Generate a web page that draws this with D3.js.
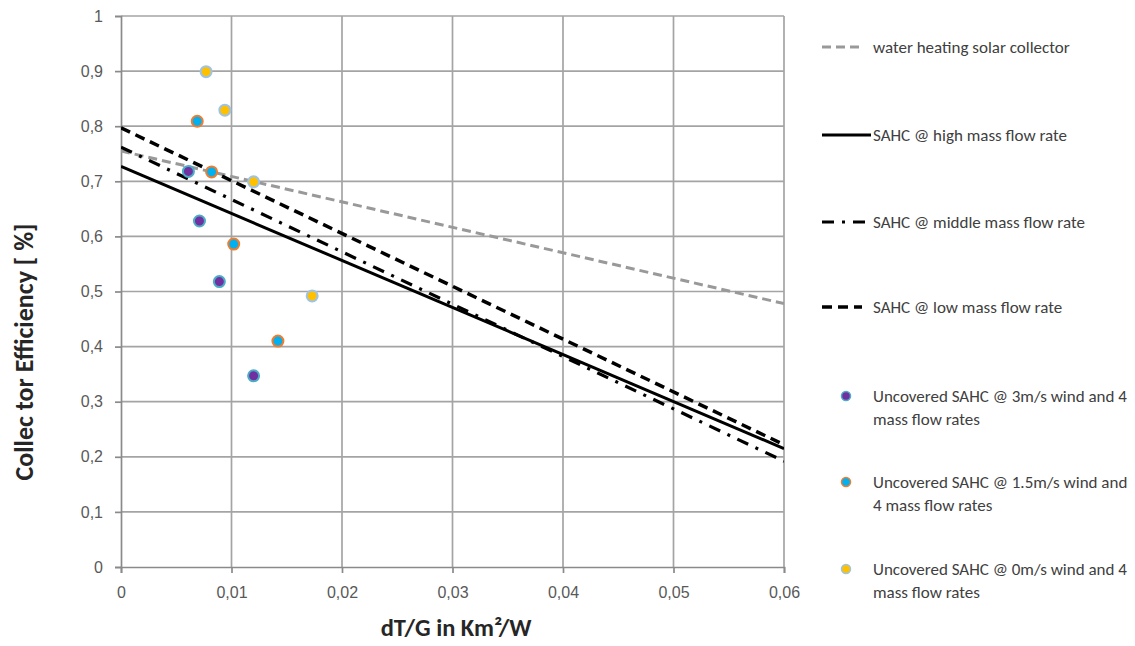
<!DOCTYPE html>
<html>
<head>
<meta charset="utf-8">
<script src="https://cdn.jsdelivr.net/npm/d3@7"></script>
<style>
  body { margin: 0; background: #fff; }
  svg { font-family: Carlito, Calibri, "Liberation Sans Narrow", "Open Sans", sans-serif; }
</style>
</head>
<body>
<svg id="chart" width="1135" height="646"></svg>
<script>
// line series: [x, y] at both ends
const water_line = [[0, 0.755], [0.06, 0.478]]
const high_line = [[0, 0.727], [0.06, 0.215]]
const middle_line = [[0, 0.762], [0.06, 0.192]]
const low_line = [[0, 0.797], [0.06, 0.222]]

// measured points
const wind3_x = [0.0061, 0.0071, 0.0089, 0.0120]
const wind3_y = [0.718, 0.628, 0.518, 0.347]
const wind15_x = [0.0069, 0.0082, 0.0102, 0.0142]
const wind15_y = [0.809, 0.717, 0.586, 0.410]
const wind0_x = [0.0077, 0.0094, 0.0120, 0.0173]
const wind0_y = [0.899, 0.829, 0.699, 0.492]

const x_ticks = [0, 0.01, 0.02, 0.03, 0.04, 0.05, 0.06]
const y_ticks = [0, 0.1, 0.2, 0.3, 0.4, 0.5, 0.6, 0.7, 0.8, 0.9, 1]

const fmt = d => String(d).replace('.', ',')

const svg = d3.select('#chart')
const p_left = 121, p_right = 784, p_top = 16, p_bottom = 567

const x = d3.scaleLinear().domain([0, 0.06]).range([p_left, p_right])
const y = d3.scaleLinear().domain([0, 1]).range([p_bottom, p_top])

// grid
svg.append('g').selectAll('line')
    .data(x_ticks.slice(1))
    .enter().append('line')
    .attr('x1', d => x(d)).attr('x2', d => x(d))
    .attr('y1', p_top).attr('y2', p_bottom)
    .attr('stroke', '#a4a4a4').attr('stroke-width', 1.7)

svg.append('g').selectAll('line')
    .data(y_ticks.slice(1))
    .enter().append('line')
    .attr('x1', p_left).attr('x2', p_right)
    .attr('y1', d => y(d)).attr('y2', d => y(d))
    .attr('stroke', '#a4a4a4').attr('stroke-width', 1.7)

// axes
const xAxis = svg.append('g')
    .attr('transform', 'translate(0,' + p_bottom + ')')
    .call(d3.axisBottom(x).tickValues(x_ticks).tickFormat(fmt).tickSize(6).tickPadding(14))
const yAxis = svg.append('g')
    .attr('transform', 'translate(' + p_left + ',0)')
    .call(d3.axisLeft(y).tickValues(y_ticks).tickFormat(fmt).tickSize(6).tickPadding(12))

;[xAxis, yAxis].forEach(ax => {
    ax.select('.domain').attr('stroke', '#8a8a8a').attr('stroke-width', 1.7)
    ax.selectAll('.tick line').attr('stroke', '#8a8a8a').attr('stroke-width', 1.7)
    ax.selectAll('.tick text').attr('fill', '#595959').style('font-size', '16px')
})

// lines
svg.append('clipPath').attr('id', 'plot-clip')
    .append('rect').attr('x', p_left).attr('y', p_top).attr('width', p_right - p_left).attr('height', p_bottom - p_top)

const line = d3.line().x(d => x(d[0])).y(d => y(d[1]))
const lines_g = svg.append('g').attr('clip-path', 'url(#plot-clip)')

const styles = [
    {data: water_line, stroke: '#999999', width: 3, dash: '9,5'},
    {data: high_line, stroke: '#000', width: 3, dash: null},
    {data: middle_line, stroke: '#000', width: 3.2, dash: '12,8,3,8'},
    {data: low_line, stroke: '#000', width: 3.5, dash: '10,6'}
]
styles.forEach(s => {
    lines_g.append('path')
        .attr('d', line(s.data))
        .attr('fill', 'none')
        .attr('stroke', s.stroke)
        .attr('stroke-width', s.width)
        .attr('stroke-dasharray', s.dash)
})

// points
const point_sets = [
    {xs: wind3_x, ys: wind3_y, fill: '#7030a0', stroke: '#4bacc6'},
    {xs: wind15_x, ys: wind15_y, fill: '#00b0f0', stroke: '#ed7d31'},
    {xs: wind0_x, ys: wind0_y, fill: '#ffc000', stroke: '#9dc3e6'}
]
point_sets.forEach(p => {
    svg.append('g').selectAll('circle')
        .data(p.xs.map((v, i) => [v, p.ys[i]]))
        .enter().append('circle')
        .attr('cx', d => x(d[0])).attr('cy', d => y(d[1]))
        .attr('r', 5.5)
        .attr('fill', p.fill)
        .attr('stroke', p.stroke)
        .attr('stroke-width', 2)
})

// axis titles
svg.append('text')
    .attr('x', 456).attr('y', 636)
    .attr('text-anchor', 'middle')
    .attr('font-weight', 'bold').attr('font-size', 24.5).attr('fill', '#262626')
    .text('dT/G in Km²/W')

svg.append('text')
    .attr('transform', 'translate(33,352) rotate(-90)')
    .attr('text-anchor', 'middle')
    .attr('font-weight', 'bold').attr('font-size', 26).attr('fill', '#262626')
    .text('Collec tor Efficiency [ %]')

// legend
const legend = svg.append('g').attr('font-size', 17).attr('fill', '#404040')
const leg_lines = [
    {y: 47, x2: 862, s: styles[0], label: 'water heating solar collector'},
    {y: 135, x2: 871, s: styles[1], label: 'SAHC @ high mass flow rate'},
    {y: 222, x2: 871, s: styles[2], label: 'SAHC @ middle mass flow rate'},
    {y: 307, x2: 862, s: styles[3], label: 'SAHC @ low mass flow rate'}
]
leg_lines.forEach(l => {
    legend.append('line')
        .attr('x1', 822).attr('x2', l.x2).attr('y1', l.y).attr('y2', l.y)
        .attr('stroke', l.s.stroke).attr('stroke-width', l.s.width)
        .attr('stroke-dasharray', l.s.dash)
    legend.append('text').attr('x', 873).attr('y', l.y).attr('dy', '0.35em').text(l.label)
})

const leg_points = [
    {y: 396, p: point_sets[0], lines: ['Uncovered SAHC @ 3m/s wind and 4', 'mass flow rates']},
    {y: 482, p: point_sets[1], lines: ['Uncovered SAHC @ 1.5m/s wind and', '4 mass flow rates']},
    {y: 569, p: point_sets[2], lines: ['Uncovered SAHC @ 0m/s wind and 4', 'mass flow rates']}
]
leg_points.forEach(l => {
    legend.append('circle').attr('cx', 846).attr('cy', l.y).attr('r', 4.5)
        .attr('fill', l.p.fill).attr('stroke', l.p.stroke).attr('stroke-width', 1.5)
    l.lines.forEach((t, i) => {
        legend.append('text').attr('x', 873).attr('y', l.y + i * 23).attr('dy', '0.35em').text(t)
    })
})
</script>
</body>
</html>
